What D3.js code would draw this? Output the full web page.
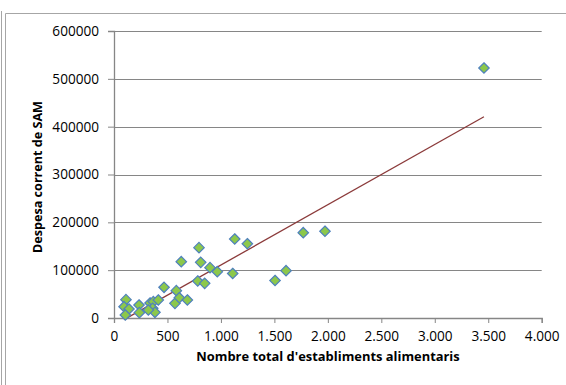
<!DOCTYPE html>
<html><head><meta charset="utf-8">
<script src="https://cdn.jsdelivr.net/npm/d3@7"></script>
<style>
html,body{margin:0;padding:0;background:#fff;}
svg{display:block;}
text{font-family:"Open Sans","Noto Sans",sans-serif;fill:#000;}
</style></head>
<body>
<svg id="chart" width="566" height="385"></svg>
<script>
// Data: x = Nombre total d'establiments alimentaris, y = Despesa corrent de SAM
const establiments = [112, 94, 140, 106, 234, 237, 337, 368, 414, 362, 383, 321, 468, 583, 570, 611, 686, 629, 795, 811, 783, 848, 898, 966, 1129, 1247, 1110, 1770, 1973, 1609, 1506, 3460];
const despesa = [38300, 23600, 18800, 6300, 27200, 11100, 31400, 34100, 37600, 20300, 11900, 16700, 64200, 57100, 30700, 42400, 37600, 117700, 147000, 116400, 77400, 72500, 105200, 96800, 165200, 155300, 93000, 178300, 181300, 98900, 78400, 522600];
const xTicks = [0, 500, 1000, 1500, 2000, 2500, 3000, 3500, 4000];
const yTicks = [0, 100000, 200000, 300000, 400000, 500000, 600000];
const trendSlope = 126;
const trendIntercept = -15200;
const xTitle = "Nombre total d'establiments alimentaris";
const yTitle = "Despesa corrent de SAM";

const svg = d3.select("#chart");
const L = 114, R = 541.7, T = 31, B = 318;
const x = d3.scaleLinear().domain([0, 4000]).range([L, R]);
const y = d3.scaleLinear().domain([0, 600000]).range([B, T]);
const gridCol = "#868686";
const tickFont = 13.6;

// outer frame
const frame = svg.append("g").attr("fill", "none").attr("stroke", "#a6a6a6").attr("stroke-width", 1);
frame.append("line").attr("x1", 1.5).attr("x2", 1.5).attr("y1", 11).attr("y2", 385);
frame.append("line").attr("x1", 5.5).attr("x2", 5.5).attr("y1", 13.5).attr("y2", 385);
frame.append("line").attr("x1", 5.5).attr("x2", 566).attr("y1", 13.5).attr("y2", 13.5);

// gridlines
svg.append("g").selectAll("line").data(yTicks.filter(d => d > 0)).join("line")
  .attr("x1", L).attr("x2", R)
  .attr("y1", d => Math.round(y(d)) + 0.5).attr("y2", d => Math.round(y(d)) + 0.5)
  .attr("stroke", gridCol).attr("stroke-width", 1);

// y axis
const fmtY = d3.format("d");
const yAxis = svg.append("g").attr("transform", `translate(${L},0)`)
  .call(d3.axisLeft(y).tickValues(yTicks).tickFormat(fmtY).tickSize(6).tickPadding(9));
// x axis
const fmtX = d => d3.format(",")(d).replace(/,/g, ".");
const xAxis = svg.append("g").attr("transform", `translate(0,${B})`)
  .call(d3.axisBottom(x).tickValues(xTicks).tickFormat(fmtX).tickSize(5).tickPadding(8));
[yAxis, xAxis].forEach(g => {
  g.select(".domain").attr("stroke", gridCol).attr("stroke-width", 1.3);
  g.selectAll(".tick line").attr("stroke", gridCol).attr("stroke-width", 1);
  g.selectAll("text").attr("font-size", tickFont).attr("font-family", "'Open Sans','Noto Sans',sans-serif").attr("fill", "#000");
});

// trend line
const tx = d3.extent(establiments);
svg.append("line")
  .attr("x1", x(tx[0])).attr("y1", y(trendSlope * tx[0] + trendIntercept))
  .attr("x2", x(tx[1])).attr("y2", y(trendSlope * tx[1] + trendIntercept))
  .attr("stroke", "#8B3A3A").attr("stroke-width", 1.3);

// points
const diamond = d3.symbol().type(d3.symbolDiamond2).size(70);
svg.append("g").selectAll("path").data(establiments.map((v, i) => [v, despesa[i]])).join("path")
  .attr("d", diamond)
  .attr("transform", d => `translate(${x(d[0])},${y(d[1])})`)
  .attr("fill", "#8CC84B").attr("stroke", "#4F81BD").attr("stroke-width", 1.2);

// titles
svg.append("text").attr("x", 328).attr("y", 361).attr("text-anchor", "middle")
  .attr("font-size", 12.9).attr("font-weight", "bold").text(xTitle);
svg.append("text").attr("transform", `translate(42,177) rotate(-90)`).attr("text-anchor", "middle")
  .attr("font-size", 12.6).attr("font-weight", "bold").text(yTitle);
</script>
</body></html>
